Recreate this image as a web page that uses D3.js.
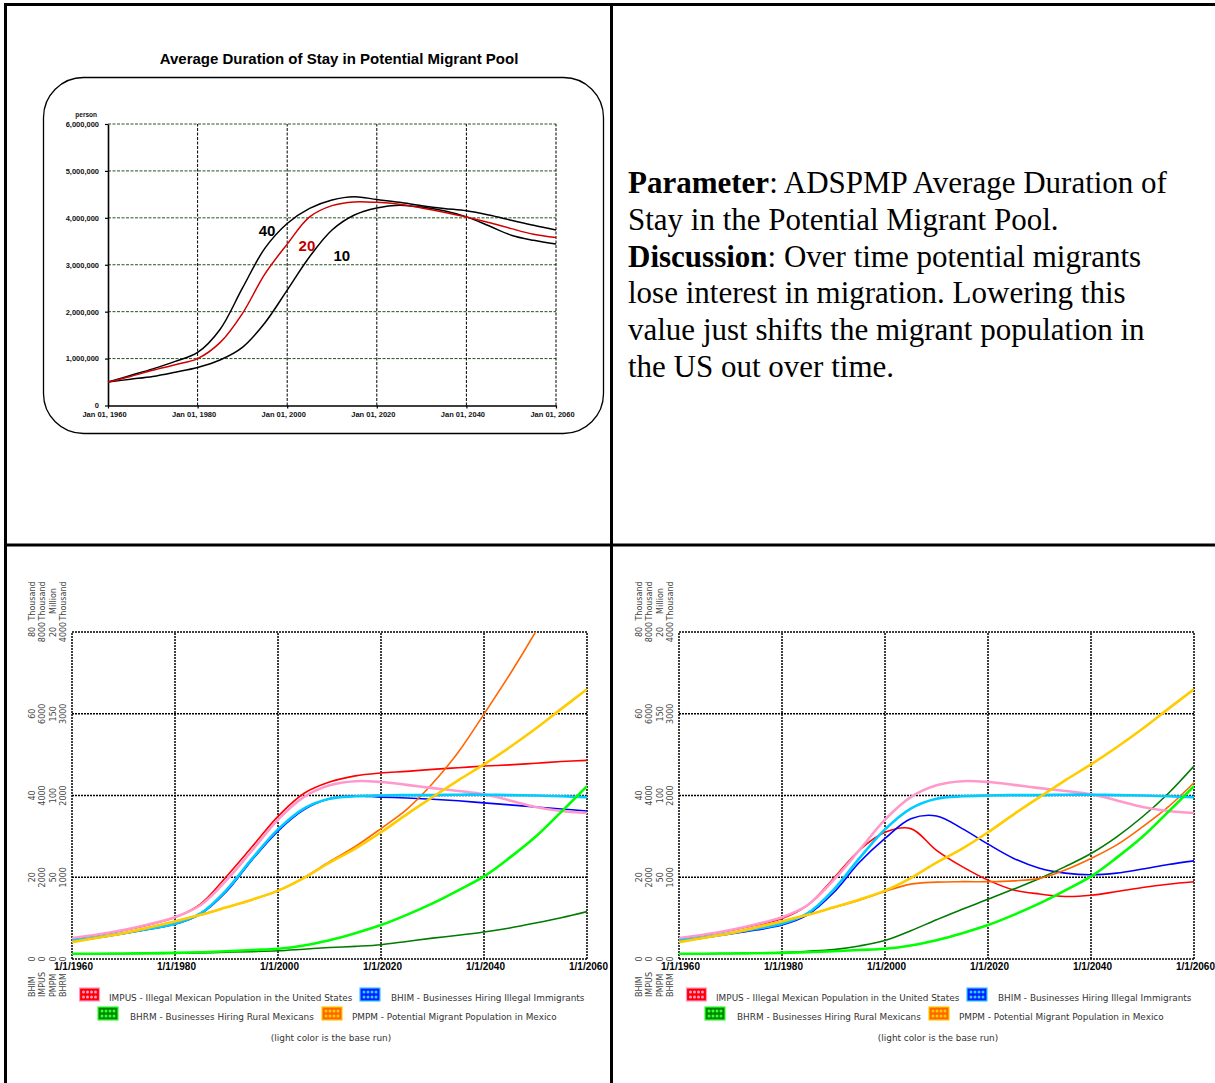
<!DOCTYPE html>
<html><head><meta charset="utf-8">
<script src="https://cdn.jsdelivr.net/npm/d3@7"></script>
<style>
body{margin:0;background:#fff}
svg{display:block}
</style>
</head><body>
<svg id="page" width="1215" height="1083"></svg>
<script>
// ---------- Top chart: potential migrant pool by ADSPMP setting (millions of persons) ----------
const stayYears = [1960,1965,1970,1975,1980,1985,1990,1995,2000,2005,2010,2015,2020,2025,2030,2035,2040,2045,2050,2055,2060];
const stay40 = [0.50,0.64,0.78,0.94,1.13,1.62,2.50,3.35,3.88,4.20,4.38,4.45,4.39,4.33,4.26,4.20,4.15,4.06,3.95,3.84,3.74];
const stay20 = [0.50,0.62,0.75,0.87,1.00,1.34,1.96,2.80,3.44,4.02,4.26,4.34,4.33,4.29,4.21,4.12,4.02,3.90,3.77,3.65,3.58];
const stay10 = [0.50,0.56,0.62,0.71,0.81,0.97,1.24,1.76,2.46,3.17,3.74,4.06,4.21,4.27,4.23,4.15,4.02,3.83,3.63,3.52,3.44];
const stayTicksY = [0,1,2,3,4,5,6];
const stayTicksX = [1960,1980,2000,2020,2040,2060];
const stayLabels = [
  {text:"40", year:1995.5, value:3.62, color:"#000"},
  {text:"20", year:2004.4, value:3.30, color:"#c00000"},
  {text:"10", year:2012.2, value:3.08, color:"#000"}
];

// ---------- Bottom charts: model runs ----------
const runYears = [1960,1965,1970,1975,1980,1985,1990,1995,2000,2005,2010,2015,2020,2025,2030,2035,2040,2045,2050,2055,2060];
// IMPUS, thousand persons
const impusBase = [510,600,710,850,1020,1320,1930,2660,3410,3960,4250,4350,4330,4260,4180,4110,4030,3880,3720,3620,3570];
const impusLeft = [500,590,700,840,1020,1350,2020,2750,3490,4050,4330,4480,4550,4590,4640,4680,4720,4750,4790,4830,4860];
const impusRight = [500,590,700,830,990,1320,1970,2660,3100,3190,2660,2260,1930,1690,1590,1530,1560,1650,1750,1830,1890];
// BHIM, thousand businesses
const bhimBase = [4.5,5.3,6.3,7.4,8.6,11.2,16.9,24.6,31.7,36.8,39.2,39.8,40.0,40.1,40.1,40.2,40.2,40.1,40.0,39.8,39.6];
const bhimLeft = [4.4,5.2,6.2,7.3,8.5,11.0,16.5,24.3,31.3,36.5,39.2,39.9,39.6,39.4,39.1,38.7,38.2,37.7,37.2,36.7,36.2];
const bhimRight = [4.4,5.2,6.1,7.1,8.3,10.8,16.2,23.6,29.5,34.3,35.0,31.9,28.1,24.6,22.2,21.0,20.6,21.0,22.0,23.1,24.0];
// PMPM, million persons
const pmpmBase = [10.3,13.0,15.8,19.3,23.0,27.0,31.6,36.3,41.8,49.5,59.0,67.5,77.5,88.5,99.0,109.3,119.0,129.5,140.8,153.0,165.0];
const pmpmLeft = [10.3,13.0,15.8,19.3,23.0,27.0,31.6,36.3,41.8,49.8,59.5,68.8,79.8,91.5,107.3,126.5,149.8,174.0,200.0,228.0,258.0];
const pmpmRight = [10.3,13.0,15.8,19.3,23.0,27.0,31.4,36.0,41.3,45.8,47.0,47.3,47.3,47.8,49.3,54.5,61.5,69.8,80.8,93.0,107.8];
// BHRM, thousand businesses
const bhrmBase = [65,65,68,70,75,83,95,110,125,165,230,315,415,540,680,840,1010,1240,1495,1800,2115];
const bhrmLeft = [65,65,65,68,70,75,83,90,100,120,140,155,175,215,255,290,330,380,440,505,580];
const bhrmRight = [65,65,68,73,80,95,115,160,225,345,480,610,730,855,985,1130,1290,1495,1740,2025,2360];

const runTicksX = [1960,1980,2000,2020,2040,2060];
const bhimTicks = ["0","20","40","60","80"];
const impusTicks = ["0","2000","4000","6000","8000"];
const pmpmTicks = ["0","50","100","150","20"];
const bhrmTicks = ["0","1000","2000","3000","4000"];
const axisUnits = ["Thousand","Thousand","Million","Thousand"];
const axisNames = ["BHIM","IMPUS","PMPM","BHRM"];
const legendRow1 = ["IMPUS - Illegal Mexican Population in the United States","BHIM - Businesses Hiring Illegal Immigrants"];
const legendRow2 = ["BHRM - Businesses Hiring Rural Mexicans","PMPM - Potential Migrant Population in Mexico"];

const svg = d3.select("#page");
svg.append("rect").attr("width",1215).attr("height",1083).attr("fill","#fff");

// ---------- page frame ----------
const frame = svg.append("g").attr("stroke","#000").attr("stroke-width",3);
frame.append("line").attr("x1",4).attr("x2",1215).attr("y1",4.5).attr("y2",4.5);
frame.append("line").attr("x1",5.5).attr("x2",5.5).attr("y1",3).attr("y2",1083);
frame.append("line").attr("x1",611.5).attr("x2",611.5).attr("y1",3).attr("y2",1083);
frame.append("line").attr("x1",4).attr("x2",1215).attr("y1",545).attr("y2",545);

// ---------- top chart ----------
(function(){
  const g = svg.append("g");
  g.append("text").attr("x",339).attr("y",64).attr("text-anchor","middle")
    .attr("font-family","Liberation Sans, Arial, sans-serif").attr("font-weight","bold")
    .attr("font-size",15).text("Average Duration of Stay in Potential Migrant Pool");
  g.append("rect").attr("x",43.5).attr("y",77.5).attr("width",560).attr("height",356)
    .attr("rx",40).attr("ry",40).attr("fill","none").attr("stroke","#000").attr("stroke-width",1.3);

  const x = d3.scaleLinear().domain([1960,2060]).range([108,556]);
  const y = d3.scaleLinear().domain([0,6]).range([405.5,124]);

  // grid
  g.append("g").selectAll("line").data(stayTicksY.filter(d=>d>0)).join("line")
    .attr("x1",x(1960)).attr("x2",x(2060)).attr("y1",d=>y(d)).attr("y2",d=>y(d))
    .attr("stroke","#225522").attr("stroke-width",1).attr("stroke-dasharray","3,1.5");
  g.append("g").selectAll("line").data(stayTicksX.filter(d=>d>1960)).join("line")
    .attr("x1",d=>x(d)).attr("x2",d=>x(d)).attr("y1",y(0)).attr("y2",y(6))
    .attr("stroke","#000").attr("stroke-width",1).attr("stroke-dasharray","3,1.5");

  // axes
  const fmt = d3.format(",");
  const ay = g.append("g").attr("transform",`translate(${x(1960)},0)`)
    .call(d3.axisLeft(y).tickValues(stayTicksY).tickSize(3).tickSizeOuter(0).tickPadding(8)
      .tickFormat(d=>fmt(d*1e6)));
  const ax = g.append("g").attr("transform",`translate(0,${y(0)})`)
    .call(d3.axisBottom(x).tickValues(stayTicksX).tickSize(3).tickSizeOuter(0).tickPadding(3.5)
      .tickFormat(d=>"Jan 01, "+d));
  [ay,ax].forEach(a=>{
    a.select(".domain").attr("stroke","#000").attr("stroke-width",1.6);
    a.selectAll(".tick line").attr("stroke","#000").attr("stroke-width",1.2);
    a.selectAll("text").attr("font-family","Liberation Sans, Arial, sans-serif")
      .attr("font-weight","bold").attr("font-size",7.5).attr("fill","#111");
  });
  ax.selectAll("text").attr("dx",-4);
  ay.selectAll("text").attr("dx",2);
  g.append("text").attr("x",97).attr("y",117).attr("text-anchor","end")
    .attr("font-family","Liberation Sans, Arial, sans-serif").attr("font-weight","bold")
    .attr("font-size",6.5).attr("fill","#111").text("person");

  const line = d3.line().x((d,i)=>x(stayYears[i])).y(d=>y(d)).curve(d3.curveCatmullRom.alpha(0.5));
  [[stay10,"#000"],[stay40,"#000"],[stay20,"#d00000"]].forEach(([s,c])=>{
    g.append("path").attr("d",line(s)).attr("fill","none").attr("stroke",c).attr("stroke-width",1.5);
  });
  g.selectAll(".lbl").data(stayLabels).join("text")
    .attr("x",d=>x(d.year)).attr("y",d=>y(d.value)).attr("text-anchor","middle")
    .attr("font-family","Liberation Sans, Arial, sans-serif").attr("font-weight","bold")
    .attr("font-size",15).attr("fill",d=>d.color).text(d=>d.text);
})();

// ---------- top-right discussion text ----------
(function(){
  const lines = [
    [["Parameter",true],[": ADSPMP Average Duration of",false]],
    [["Stay in the Potential Migrant Pool.",false]],
    [["Discussion",true],[": Over time potential migrants",false]],
    [["lose interest in migration. Lowering this",false]],
    [["value just shifts the migrant population in",false]],
    [["the US out over time.",false]]
  ];
  const t = svg.append("g").attr("font-family","Liberation Serif, Times New Roman, serif")
    .attr("font-size",31).attr("fill","#000");
  lines.forEach((parts,i)=>{
    const tx = t.append("text").attr("x",628).attr("y",193+i*36.8);
    parts.forEach(([s,b])=>tx.append("tspan").attr("font-weight",b?"bold":"normal").text(s));
  });
})();

// ---------- bottom charts ----------
const defs = svg.append("defs");
const swatchColors = [
  {id:"swRed", dark:"#ff0000", light:"#ff99cc"},
  {id:"swBlue", dark:"#0022ff", light:"#33ccff"},
  {id:"swGreen", dark:"#008800", light:"#33ff33"},
  {id:"swOrange", dark:"#ff6600", light:"#ffcc00"}
];

function drawRunPanel(left, runs, idx){
  const right = left + 515, top = 632, bottom = 959;
  const g = svg.append("g");
  const x = d3.scaleLinear().domain([1960,2060]).range([left,right]);
  const yImpus = d3.scaleLinear().domain([0,8000]).range([bottom,top]);
  const yBhim = d3.scaleLinear().domain([0,80]).range([bottom,top]);
  const yPmpm = d3.scaleLinear().domain([0,200]).range([bottom,top]);
  const yBhrm = d3.scaleLinear().domain([0,4000]).range([bottom,top]);

  const clipId = "plotClip"+idx;
  defs.append("clipPath").attr("id",clipId).append("rect")
    .attr("x",left).attr("y",top).attr("width",right-left).attr("height",bottom-top);

  // gridlines and frame (dotted)
  const gridV = [0,20,40,60,80];
  g.append("g").selectAll("line").data(gridV).join("line")
    .attr("x1",left).attr("x2",right).attr("y1",d=>yBhim(d)).attr("y2",d=>yBhim(d))
    .attr("stroke","#000").attr("stroke-width",1.5).attr("stroke-dasharray","2,1");
  g.append("g").selectAll("line").data(runTicksX).join("line")
    .attr("x1",d=>x(d)).attr("x2",d=>x(d)).attr("y1",bottom).attr("y2",top)
    .attr("stroke","#000").attr("stroke-width",1.5).attr("stroke-dasharray","2,1");

  // x tick labels
  g.append("g").selectAll("text").data(runTicksX).join("text")
    .attr("x",d=>x(d)+1.5).attr("y",970).attr("text-anchor","middle")
    .attr("font-family","Liberation Sans, Arial, sans-serif").attr("font-weight","bold")
    .attr("font-size",10).attr("fill","#000").text(d=>"1/1/"+d);

  // stacked rotated value columns, one per variable
  const cols = [bhimTicks, impusTicks, pmpmTicks, bhrmTicks];
  const colX = [-37.3,-26.8,-16.5,-6.5];
  const lab = g.append("g").attr("font-family","DejaVu Sans, Verdana, sans-serif")
    .attr("font-size",8).attr("fill","#444");
  cols.forEach((ticks,c)=>{
    ticks.forEach((t,k)=>{
      lab.append("text").attr("text-anchor","middle")
        .attr("transform",`translate(${left+colX[c]},${yBhim(gridV[k])}) rotate(-90)`).text(t);
    });
    lab.append("text").attr("text-anchor","middle")
      .attr("transform",`translate(${left+colX[c]},601) rotate(-90)`).text(axisUnits[c]);
    lab.append("text").attr("text-anchor","start")
      .attr("transform",`translate(${left+colX[c]},997) rotate(-90)`).text(axisNames[c]);
  });

  // series lines: current run first, base run (light) on top
  const mk = (ys)=>d3.line().x((d,i)=>x(runYears[i])).y(d=>ys(d)).curve(d3.curveCatmullRom.alpha(0.5));
  const lines = g.append("g").attr("clip-path",`url(#${clipId})`).attr("fill","none");
  [[runs.impus,yImpus,"#ff0000"],[runs.bhim,yBhim,"#0000ff"],[runs.bhrm,yBhrm,"#007a00"],[runs.pmpm,yPmpm,"#ff6600"]]
    .forEach(([s,ys,c])=>lines.append("path").attr("d",mk(ys)(s)).attr("stroke",c).attr("stroke-width",1.6));
  [[impusBase,yImpus,"#ff99cc"],[bhimBase,yBhim,"#00ccff"],[bhrmBase,yBhrm,"#00ff00"],[pmpmBase,yPmpm,"#ffcc00"]]
    .forEach(([s,ys,c])=>lines.append("path").attr("d",mk(ys)(s)).attr("stroke",c).attr("stroke-width",2.6));

  // legend
  const leg = g.append("g").attr("font-family","DejaVu Sans, Verdana, sans-serif")
    .attr("font-size",8.9).attr("fill","#333");
  const items = [
    {sw:0, sx:7.5, sy:988, tx:37, ty:1001, text:legendRow1[0]},
    {sw:1, sx:288, sy:988, tx:319, ty:1001, text:legendRow1[1]},
    {sw:2, sx:26, sy:1007, tx:58, ty:1020, text:legendRow2[0]},
    {sw:3, sx:250, sy:1007, tx:280, ty:1020, text:legendRow2[1]}
  ];
  items.forEach(it=>{
    const s = swatchColors[it.sw];
    const sg = leg.append("g").attr("transform",`translate(${left+it.sx},${it.sy})`);
    sg.append("rect").attr("width",20).attr("height",13).attr("fill",s.dark)
      .attr("stroke",s.light).attr("stroke-width",1.2);
    for(let r=0;r<2;r++) for(let c=0;c<4;c++)
      sg.append("circle").attr("cx",4+c*4).attr("cy",4+r*5).attr("r",1.5).attr("fill",s.light);
    leg.append("text").attr("x",left+it.tx).attr("y",it.ty).text(it.text);
  });
  leg.append("text").attr("x",left+259).attr("y",1040.5).attr("text-anchor","middle")
    .text("(light color is the base run)");
}

drawRunPanel(72, {impus:impusLeft, bhim:bhimLeft, pmpm:pmpmLeft, bhrm:bhrmLeft}, 0);
drawRunPanel(679, {impus:impusRight, bhim:bhimRight, pmpm:pmpmRight, bhrm:bhrmRight}, 1);
</script>
</body></html>
